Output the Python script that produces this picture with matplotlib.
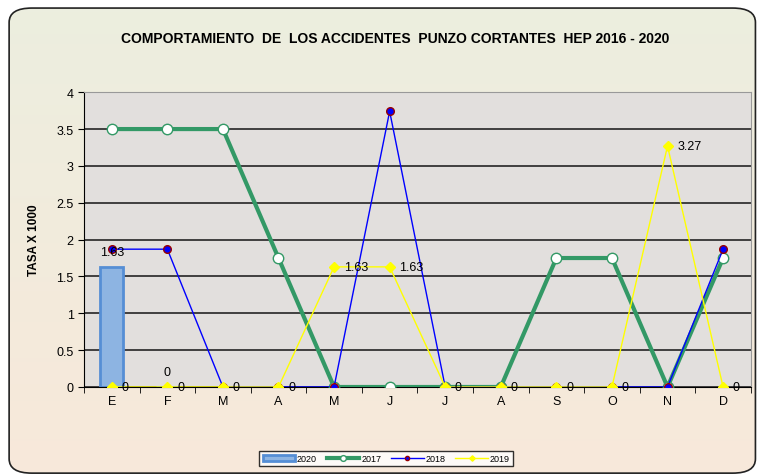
import numpy as np
import matplotlib
matplotlib.use("Agg")
import matplotlib.pyplot as plt
from matplotlib.patches import FancyBboxPatch

plt.rcParams['font.family'] = ['Liberation Sans', 'DejaVu Sans']

meses = ['E', 'F', 'M', 'A', 'M', 'J', 'J', 'A', 'S', 'O', 'N', 'D']
tasa_2020 = [1.63, 0]
tasa_2017 = [3.5, 3.5, 3.5, 1.75, 0, 0, 0, 0, 1.75, 1.75, 0, 1.75]
tasa_2018 = [1.87, 1.87, 0, 0, 0, 3.74, 0, 0, 0, 0, 0, 1.87]
tasa_2019 = [0, 0, 0, 0, 1.63, 1.63, 0, 0, 0, 0, 3.27, 0]

fig = plt.figure(figsize=(7.6, 4.77), dpi=100)

# background with rounded border and soft gradient
bg = fig.add_axes([0, 0, 1, 1], zorder=-10)
bg.set_axis_off()
grad = np.linspace(0, 1, 256).reshape(-1, 1)
top = np.array([0.925, 0.935, 0.875])
bot = np.array([0.972, 0.912, 0.855])
img = top + (bot - top) * grad[..., None]
im = bg.imshow(img, extent=[0, 1, 0, 1], aspect='auto', origin='upper')
box = FancyBboxPatch((0.012, 0.006), 0.982, 0.975, boxstyle="round,pad=0,rounding_size=0.03",
                     transform=bg.transAxes, facecolor='none', edgecolor='#222222', lw=1.2)
bg.add_patch(box)
im.set_clip_path(box)
bg.set_xlim(0, 1)
bg.set_ylim(0, 1)

ax = fig.add_axes([0.1105, 0.1866, 0.8775, 0.618])
ax.set_facecolor('#E2DFDD')
x = np.arange(len(meses))

b20 = ax.bar(x[:len(tasa_2020)], tasa_2020, width=0.42, color='#8DB4E2', edgecolor='#558ED5',
             linewidth=2, label='2020', zorder=2)
for xi, v in zip(x[:len(tasa_2020)], tasa_2020):
    ax.text(xi, v + 0.12, f'{v:g}', ha='center', va='bottom', fontsize=9, zorder=6)

l17, = ax.plot(x, tasa_2017, color='#339966', lw=3, marker='o', markersize=7.5,
               markerfacecolor='white', markeredgecolor='#339966', markeredgewidth=1,
               label='2017', zorder=3)
l18, = ax.plot(x, tasa_2018, color='#0000FF', lw=1, marker='o', markersize=5.5,
               markerfacecolor='#0000FF', markeredgecolor='#990000', markeredgewidth=1,
               label='2018', zorder=4)
l19, = ax.plot(x, tasa_2019, color='#FFFF00', lw=1, marker='D', markersize=5,
               markerfacecolor='#FFFF00', markeredgecolor='#FFFF00',
               label='2019', zorder=5)
for xi, v in zip(x, tasa_2019):
    ax.annotate(f'{v:g}', (xi, v), xytext=(7, 0), textcoords='offset points',
                ha='left', va='center', fontsize=9, zorder=6)

ax.set_xlim(-0.5, 11.5)
ax.set_ylim(0, 4)
ax.set_yticks(np.arange(0, 4.01, 0.5))
ax.set_yticklabels(['0', '0.5', '1', '1.5', '2', '2.5', '3', '3.5', '4'])
ax.set_xticks(x)
ax.set_xticklabels(meses)
ax.set_xticks(np.arange(-0.5, 12, 1), minor=True)
ax.tick_params(axis='x', which='major', length=0, labelsize=9, pad=6)
ax.tick_params(axis='x', which='minor', length=4, direction='out')
ax.tick_params(axis='y', length=4, direction='out', labelsize=9)
ax.yaxis.grid(True, color='#333333', lw=1.3)
ax.set_axisbelow(True)
for s in ['top', 'right']:
    ax.spines[s].set_color('#999999')
ax.spines['left'].set_color('black')
ax.spines['bottom'].set_color('black')

ax.set_ylabel('TASA X 1000', fontsize=8.5, fontweight='bold', labelpad=12)
fig.text(0.52, 0.918, 'COMPORTAMIENTO  DE  LOS ACCIDENTES  PUNZO CORTANTES  HEP 2016 - 2020',
         ha='center', va='center', fontsize=10, fontweight='bold')

leg = fig.legend(handles=[b20, l17, l18, l19], loc='center', bbox_to_anchor=(0.508, 0.037),
                 ncol=4, fontsize=6.5, frameon=True, fancybox=False, edgecolor='black',
                 handlelength=3.6, handleheight=0.6, columnspacing=1.1, handletextpad=0.2,
                 borderpad=0.35, markerscale=0.55)
leg.get_frame().set_linewidth(1)
leg.get_frame().set_facecolor('white')

fig.savefig('out.png', dpi=100)
